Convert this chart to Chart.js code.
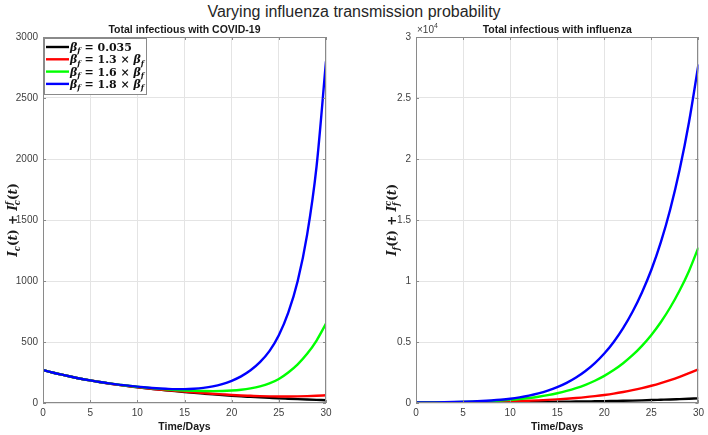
<!DOCTYPE html>
<html><head><meta charset="utf-8">
<script src="https://cdn.jsdelivr.net/npm/chart.js@4/dist/chart.umd.min.js"></script>
<style>
html,body{margin:0;padding:0;background:#fff;width:708px;height:435px;overflow:hidden;}
#title{position:absolute;left:0;top:3px;width:708px;text-align:center;font:16px "Liberation Sans",Arial,sans-serif;color:#262626;white-space:nowrap;}
.wrap{position:absolute;top:0;width:354px;height:435px;}
canvas{display:block;}
</style></head><body>
<div id="title">Varying influenza transmission probability</div>
<div class="wrap" style="left:0"><canvas id="c1" width="354" height="435"></canvas></div>
<div class="wrap" style="left:354px"><canvas id="c2" width="354" height="435"></canvas></div>
<script>
// ---------------- DATA ----------------
const days = [0,1,2,3,4,5,6,7,8,9,10,11,12,13,14,15,16,17,18,19,20,21,22,23,24,25,26,27,28,29,30];

// Total infectious with COVID-19
const covidBase = [270,250,232,215,199,185,172,160,149,139,129,120,112,104,97,90,83,77,71,65,59,54,50,46,42,38,35,32,29,26,23];
const covid13   = [270,250,232,215,199,185,172,160,149,139,130,121,113,106,99,93,87,81,76,71,66,62,59,56,54,53,53,54,56,59,63];
const covid16   = [270,250,232,215,199,185,172,161,151,141,133,125,118,112,107,103,100,98,97,98,102,109,120,136,160,197,250,317,403,512,650];
const covid18   = [270,250,232,215,199,185,172,161,151,142,134,127,121,117,114,114,117,124,136,155,182,218,268,335,425,555,740,1000,1380,1940,2800];

// Total infectious with influenza
const fluBase = [35,38,40,43,46,50,53,57,61,65,70,76,81,87,93,100,109,118,128,139,150,165,180,198,218,240,265,290,320,350,380];
const flu13   = [35,39,44,50,57,65,75,87,100,115,135,158,185,215,255,300,350,410,480,565,660,770,900,1050,1220,1415,1635,1880,2150,2445,2760];
const flu16   = [35,40,47,56,68,84,104,130,163,206,260,328,412,516,643,798,987,1216,1492,1824,2222,2697,3258,3916,4687,5583,6622,7827,9220,10826,12750];
const flu18   = [35,42,52,64,80,100,127,163,210,270,350,462,605,787,1015,1299,1652,2088,2623,3273,4058,5004,6135,7478,9064,10922,13161,15859,19110,23028,27749];

const seriesColors = ['#000000','#ff0000','#00ff00','#0000ff'];
const legendMultipliers = ['0.035','1.3','1.6','1.8'];

const covidTicks = [0,500,1000,1500,2000,2500,3000];
const fluTicks = [0,0.5,1,1.5,2,2.5,3];
const xTicks = [0,5,10,15,20,25,30];

// ---------------- HELPERS ----------------
const SANS = '"Liberation Sans", Arial, Helvetica, sans-serif';
const SERIF = '"DejaVu Serif", "Liberation Serif", serif';
function mfont(style, size){ return (style==='i'?'italic ':'')+'bold '+size+'px '+SERIF; }
// parts: [text, style('i'|'r'), pos(0|'b'|'bp'), text2]
function richDraw(ctx, parts, S, x, y, draw){
  let cx = x;
  const ss = S*0.7;
  for (const p of parts){
    const [t, st, pos, t2] = p;
    if (pos === 0){
      ctx.font = mfont(st, S);
      if (draw) ctx.fillText(t, cx, y);
      cx += ctx.measureText(t).width;
    } else if (pos === 'b'){
      ctx.font = mfont(st, ss);
      if (draw) ctx.fillText(t, cx, y + S*0.22);
      cx += ctx.measureText(t).width;
    } else if (pos === 'bp'){
      ctx.font = mfont(st, ss);
      if (draw){ ctx.fillText(t, cx, y + S*0.25); ctx.fillText(t2, cx, y - S*0.42); }
      cx += Math.max(ctx.measureText(t).width, ctx.measureText(t2).width);
    }
  }
  return cx - x;
}

function makeChart(id, cfg){
  const datasets = cfg.series.map((vals, i) => ({
    data: days.map((d, j) => ({x: d, y: vals[j]})),
    borderColor: seriesColors[i],
    borderWidth: 2.4,
    pointRadius: 0,
    fill: false,
    cubicInterpolationMode: 'monotone',
    order: 4 - i
  }));
  const deco = {
    id: 'deco',
    afterDraw(chart){
      const ctx = chart.ctx;
      const a = chart.chartArea;
      const xs = chart.scales.x, ys = chart.scales.y;
      ctx.save();
      // box
      ctx.strokeStyle = '#8a8a8a';
      ctx.lineWidth = 1;
      ctx.strokeRect(Math.round(a.left)+0.5, Math.round(a.top)+0.5, Math.round(a.right-a.left)-1, Math.round(a.bottom-a.top)-1);
      // inward ticks
      ctx.beginPath();
      xTicks.forEach(v => {
        const px = Math.round(xs.getPixelForValue(v))+0.5;
        ctx.moveTo(px, a.bottom); ctx.lineTo(px, a.bottom-3);
        ctx.moveTo(px, a.top); ctx.lineTo(px, a.top+3);
      });
      cfg.yTicks.forEach(v => {
        const py = Math.round(ys.getPixelForValue(v*cfg.yScale))+0.5;
        ctx.moveTo(a.left, py); ctx.lineTo(a.left+3, py);
        ctx.moveTo(a.right, py); ctx.lineTo(a.right-3, py);
      });
      ctx.stroke();
      // subplot title
      ctx.fillStyle = '#1a1a1a';
      ctx.font = 'bold 10.5px ' + SANS;
      ctx.textAlign = 'center';
      ctx.textBaseline = 'alphabetic';
      ctx.fillText(cfg.title, (a.left+a.right)/2, 33);
      // y label (rotated rich text)
      ctx.save();
      ctx.translate(cfg.yLabelX, (a.top+a.bottom)/2);
      ctx.rotate(-Math.PI/2);
      ctx.textAlign = 'left';
      const S = 12;
      const w = richDraw(ctx, cfg.yLabel, S, 0, 0, false);
      richDraw(ctx, cfg.yLabel, S, -w/2, S*0.35, true);
      ctx.restore();
      // exponent
      if (cfg.exponent){
        ctx.textAlign = 'left';
        ctx.fillStyle = '#404040';
        ctx.font = '10px ' + SANS;
        ctx.fillText('\u00d710', a.left+1, 33);
        const w2 = ctx.measureText('\u00d710').width;
        ctx.font = '7px ' + SANS;
        ctx.fillText('4', a.left+1+w2, 28);
      }
      // legend
      if (cfg.legend){
        const lx = a.left + 1, ly = a.top + 1, lw = 103, lh = 57;
        ctx.fillStyle = '#ffffff';
        ctx.fillRect(lx, ly, lw, lh);
        ctx.strokeStyle = '#8a8a8a';
        ctx.lineWidth = 1;
        ctx.strokeRect(lx+0.5, ly+0.5, lw-1, lh-1);
        ctx.textAlign = 'left';
        legendMultipliers.forEach((m, i) => {
          const yy = ly + 9 + i*12.3;
          ctx.strokeStyle = seriesColors[i];
          ctx.lineWidth = 2.4;
          ctx.beginPath(); ctx.moveTo(lx+2, yy); ctx.lineTo(lx+25, yy); ctx.stroke();
          ctx.fillStyle = '#111';
          const parts = i === 0
            ? [['\u03b2','i',0],['f','i','b'],[' = 0.035','r',0]]
            : [['\u03b2','i',0],['f','i','b'],[' = '+m+' \u00d7 ','r',0],['\u03b2','i',0],['f','i','b']];
          richDraw(ctx, parts, 11, lx+26, yy+4, true);
        });
      }
      ctx.restore();
    }
  };
  return new Chart(document.getElementById(id), {
    type: 'line',
    data: {datasets},
    options: {
      responsive: false, animation: false, devicePixelRatio: 1,
      layout: {padding: {top: 37, right: cfg.padR, left: 0, bottom: 0}},
      plugins: {legend: {display: false}, tooltip: {enabled: false}, title: {display: false}},
      scales: {
        x: {
          type: 'linear', min: 0, max: 30,
          afterBuildTicks: s => { s.ticks = xTicks.map(v => ({value: v})); },
          ticks: {font: {family: SANS, size: 10}, color: '#404040', padding: 4, maxRotation: 0, autoSkip: false},
          grid: {color: '#e4e4e4', drawTicks: false, lineWidth: 1},
          border: {display: false},
          title: {display: true, text: 'Time/Days', font: {family: SANS, size: 10.5, weight: 'bold'}, color: '#1a1a1a', padding: {top: 0, bottom: 2}},
          afterFit: s => { s.height = 32; }
        },
        y: {
          type: 'linear', min: 0, max: cfg.yMax,
          afterBuildTicks: s => { s.ticks = cfg.yTicks.map(v => ({value: v*cfg.yScale})); },
          ticks: {font: {family: SANS, size: 10}, color: '#404040', padding: 5, autoSkip: false,
                  callback: v => String(Math.round(v/cfg.yScale*100)/100)},
          grid: {color: '#e4e4e4', drawTicks: false, lineWidth: 1},
          border: {display: false},
          afterFit: s => { s.width = cfg.yW; }
        }
      }
    },
    plugins: [deco]
  });
}

makeChart('c1', {
  series: [covidBase, covid13, covid16, covid18],
  yTicks: covidTicks, yScale: 1, yMax: 3000, yW: 43, padR: 28,
  title: 'Total infectious with COVID-19',
  yLabelX: 13,
  yLabel: [['I','i',0],['c','i','b'],['(','r',0],['t','i',0],[') + ','r',0],['I','i',0],['c','i','bp','f'],['(','r',0],['t','i',0],[')','r',0]],
  legend: true
});
makeChart('c2', {
  series: [fluBase, flu13, flu16, flu18],
  yTicks: fluTicks, yScale: 10000, yMax: 30000, yW: 62, padR: 9,
  title: 'Total infectious with influenza',
  yLabelX: 38,
  yLabel: [['I','i',0],['f','i','b'],['(','r',0],['t','i',0],[') + ','r',0],['I','i',0],['f','i','bp','c'],['(','r',0],['t','i',0],[')','r',0]],
  exponent: true
});
</script>
</body></html>
